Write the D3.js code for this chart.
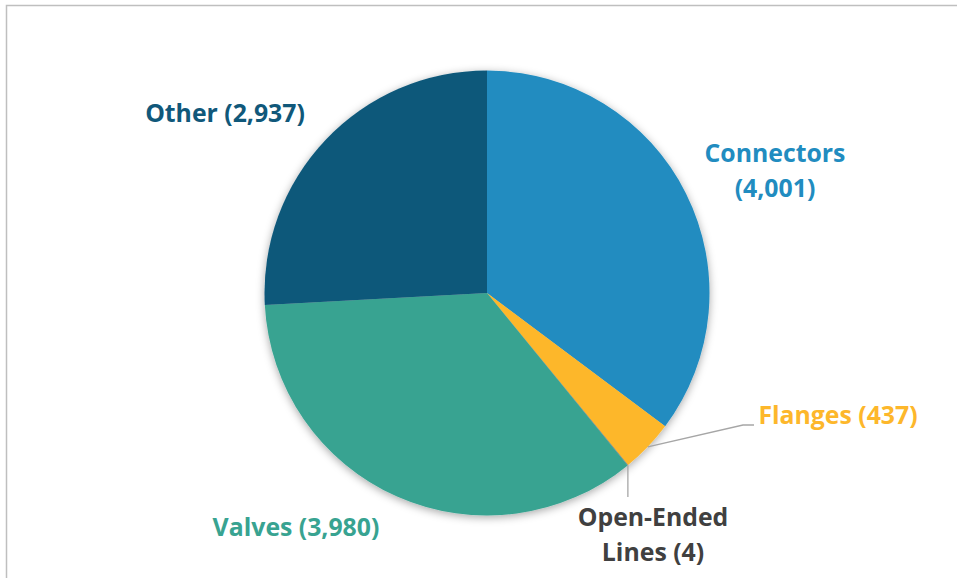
<!DOCTYPE html>
<html><head><meta charset="utf-8">
<script src="https://cdn.jsdelivr.net/npm/d3@7"></script>
<style>html,body{margin:0;padding:0;background:#fff;}svg{display:block;}</style>
</head><body>
<svg id="chart" width="957" height="578"></svg>
<script>
const categories = ["Connectors", "Flanges", "Open-Ended Lines", "Valves", "Other"];
const values = [4001, 437, 4, 3980, 2937];
const sliceColors = ["#218CC0", "#FDB72B", "#7F7F7F", "#38A391", "#10587A"];
const labelColors = ["#218CC0", "#FDB72B", "#404040", "#38A391", "#10587A"];
const labelLines = [["Connectors", "(4,001)"], ["Flanges (437)"], ["Open-Ended", "Lines (4)"], ["Valves (3,980)"], ["Other (2,937)"]];

const W = 957, H = 578;
const cx = 487, cy = 293, R = 222.5;
const svg = d3.select("#chart");

// chart border
svg.append("rect").attr("x", 6.5).attr("y", 5.5).attr("width", 1000).attr("height", 700)
  .attr("fill", "none").attr("stroke", "#BFBFBF").attr("stroke-width", 1.5);

const defs = svg.append("defs");
const f = defs.append("filter").attr("id", "sh").attr("x", "-20%").attr("y", "-20%").attr("width", "140%").attr("height", "140%");
f.append("feDropShadow").attr("dx", 0).attr("dy", 2).attr("stdDeviation", 4).attr("flood-color", "#000").attr("flood-opacity", 0.35);

const pie = d3.pie().sort(null).value(d => d)(values);
const arc = d3.arc().innerRadius(0).outerRadius(R);
const g = svg.append("g").attr("transform", `translate(${cx},${cy})`);
g.append("g").attr("filter", "url(#sh)").selectAll("path").data(pie).join("path")
  .attr("d", arc).attr("fill", (d, i) => sliceColors[i]);

// label positions (text centers / baselines)
const labelPos = [[775, 162], [838, 424], [653, 526], [296, 536], [225, 122]];
const lineH = 35;
const font = "'Open Sans', sans-serif";
const fs = 24.8;

// leader lines
const outer = d3.arc().innerRadius(R).outerRadius(R);
const pF = outer.centroid(pie[1]);
const pO = outer.centroid(pie[2]);
svg.append("polyline")
  .attr("points", [[cx + pF[0], cy + pF[1]], [743, 425], [754, 425]].map(p => p.join(",")).join(" "))
  .attr("fill", "none").attr("stroke", "#A6A6A6").attr("stroke-width", 1.3);
svg.append("polyline")
  .attr("points", [[cx + pO[0], cy + pO[1]], [cx + pO[0], 497]].map(p => p.join(",")).join(" "))
  .attr("fill", "none").attr("stroke", "#A6A6A6").attr("stroke-width", 1.3);

labelLines.forEach((lines, i) => {
  const t = svg.append("text").attr("x", labelPos[i][0]).attr("y", labelPos[i][1])
    .attr("text-anchor", "middle").attr("font-family", font).attr("font-weight", 700)
    .attr("font-size", fs).attr("fill", labelColors[i]);
  lines.forEach((s, j) => t.append("tspan").attr("x", labelPos[i][0]).attr("dy", j === 0 ? 0 : lineH).text(s));
});
</script>
</body></html>
